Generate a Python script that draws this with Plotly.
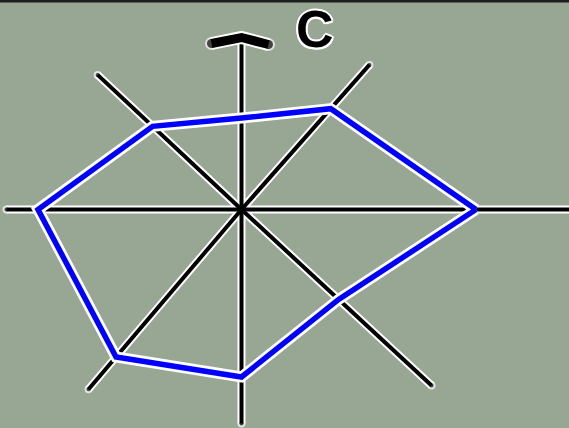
import math
import plotly.graph_objects as go

# spokes of the star, counter-clockwise starting from the right
directions = ["E", "NE", "N", "NW", "W", "SW", "S", "SE"]
spoke_angle = [0, 48.5, 90, 136.9, 180, 229.6, 270, 317.2]
spoke_length = [340, 193, 172, 197, 235, 236, 214, 259]

# values of the blue series along each spoke
values = [234.5, 134.6, 91.5, 121.7, 203.5, 193.6, 167.5, 132.4]

axis_label = "C"

bg = "#98a694"


def to_xy(angle, r):
    a = math.radians(angle)
    return r * math.cos(a), r * math.sin(a)


def line_with_dots(x, y, color, width, ends):
    # round dots at the ends stand in for round line caps
    sizes = [width if e else 0 for e in ends]
    fig.add_trace(go.Scatter(x=x, y=y, mode="lines+markers",
                             line=dict(color=color, width=width),
                             marker=dict(size=sizes, color=color, line=dict(width=0)),
                             hoverinfo="skip", showlegend=False))


fig = go.Figure()

# spokes: all white outlines first, then the black lines on top
spoke_ends = [to_xy(a, l) for a, l in zip(spoke_angle, spoke_length)]
for ex, ey in spoke_ends:
    line_with_dots([0, ex], [0, ey], "white", 8, [False, True])
for ex, ey in spoke_ends:
    line_with_dots([0, ex], [0, ey], "black", 4, [False, True])

# arrow head on top of the vertical spoke
top = spoke_length[spoke_angle.index(90)]
arrow_x = [-30, 0, 27]
arrow_y = [top - 6, top, top - 7]
line_with_dots(arrow_x, arrow_y, "white", 13, [True, False, True])
line_with_dots(arrow_x, arrow_y, "black", 9, [True, False, True])

# the data polygon
px, py = [], []
for ang, v in zip(spoke_angle, values):
    x, y = to_xy(ang, v)
    px.append(x)
    py.append(y)
px.append(px[0])
py.append(py[0])

fig.add_trace(go.Scatter(x=px, y=py, mode="lines",
                         line=dict(color="white", width=11),
                         hoverinfo="skip", showlegend=False))
fig.add_trace(go.Scatter(x=px, y=py, mode="lines",
                         line=dict(color="#0000ff", width=5.5),
                         showlegend=False))

fig.add_annotation(x=73.5, y=180.5, text=axis_label, showarrow=False,
                   xanchor="center", yanchor="middle",
                   font=dict(family="Liberation Sans", size=52, color="black",
                             weight="bold",
                             shadow="2px 0 0 white, -2px 0 0 white, 0 2px 0 white, 0 -2px 0 white, 1.5px 1.5px 0 white, -1.5px -1.5px 0 white, 1.5px -1.5px 0 white, -1.5px 1.5px 0 white"))

# black border along the top
fig.add_shape(type="line", xref="paper", yref="paper", x0=0, x1=1, y0=1, y1=1,
              line=dict(color="#1e1e1e", width=5))

fig.update_layout(
    width=569, height=428,
    margin=dict(l=0, r=0, t=0, b=0),
    paper_bgcolor=bg, plot_bgcolor=bg,
    xaxis=dict(range=[-241.5, 327.5], visible=False, fixedrange=True),
    yaxis=dict(range=[-218.5, 209.5], visible=False, fixedrange=True),
)

# page margin off so the chart sits in the corner
fig.write_html("out.html", config={"displayModeBar": False},
               post_script="document.body.style.margin='0';")
